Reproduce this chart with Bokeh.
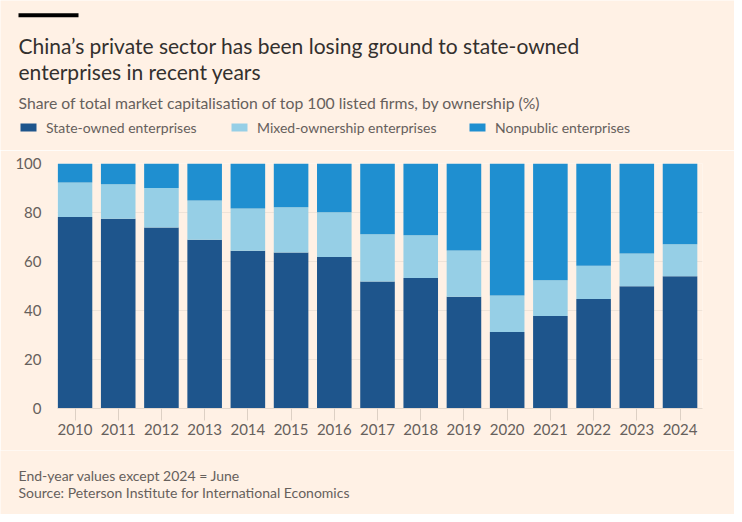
from bokeh.plotting import figure
from bokeh.layouts import column
from bokeh.models import (ColumnDataSource, Range1d, FixedTicker, Label, Legend,
                          LegendItem, BoxAnnotation)
from bokeh.embed import file_html
from bokeh.resources import INLINE

years = ["2010", "2011", "2012", "2013", "2014", "2015", "2016", "2017",
         "2018", "2019", "2020", "2021", "2022", "2023", "2024"]
state_owned = [78.2, 77.4, 73.9, 68.9, 64.4, 63.7, 61.8, 51.8, 53.3, 45.6, 31.2, 37.8, 44.7, 49.9, 54.0]
mixed_ownership = [14.0, 14.1, 16.1, 16.0, 17.2, 18.4, 18.3, 19.3, 17.4, 18.9, 14.9, 14.5, 13.6, 13.4, 13.0]
nonpublic = [7.8, 8.5, 10.0, 15.1, 18.4, 17.9, 19.9, 28.9, 29.3, 35.5, 53.9, 47.7, 41.7, 36.7, 33.0]
series_names = ["State-owned enterprises", "Mixed-ownership enterprises", "Nonpublic enterprises"]
y_ticks = [0, 20, 40, 60, 80, 100]

title_lines = ["China\u2019s private sector has been losing ground to state-owned",
               "enterprises in recent years"]
subtitle = "Share of total market capitalisation of top 100 listed firms, by ownership (%)"
notes = ["End-year values except 2024 = June",
         "Source: Peterson Institute for International Economics"]

BG = "#fff1e5"
COLORS = ["#1e558c", "#96cfe6", "#1f8fd0"]
FONT = "Lato"
GREY = "#66605c"
W = 734
H_HEAD, H_MAIN, H_FOOT = 150, 300, 64

xs = list(range(len(years)))
source = ColumnDataSource(dict(x=xs, soe=state_owned, mixed=mixed_ownership, nonpub=nonpublic))
stack_cols = ["soe", "mixed", "nonpub"]


def blank(h, y0):
    f = figure(width=W, height=h, output_backend="svg", toolbar_location=None,
               x_range=Range1d(0, W), y_range=Range1d(y0 + h, y0),
               x_axis_type=None, y_axis_type=None, min_border=0, frame_align=False,
               background_fill_color=BG, border_fill_color=BG, outline_line_color=None)
    f.grid.visible = False
    return f


def lab(f, text, x, y, size, color):
    f.add_layout(Label(x=x, y=y, text=text, text_font=FONT, text_font_size=size,
                       text_color=color, text_baseline="alphabetic", text_align="left"))


# ---------- header ----------
head = blank(H_HEAD, 0)
head.add_layout(BoxAnnotation(left=18, right=78, top=12.7, bottom=16.7,
                              fill_color="#000000", fill_alpha=1, line_color=None))
lab(head, title_lines[0], 18, 45, "21px", "#33302e")
lab(head, title_lines[1], 18, 71, "21px", "#33302e")
lab(head, subtitle, 18, 101.7, "15.75px", GREY)

key_renderers = head.vbar_stack(stack_cols, x="x", width=0.8, source=source,
                                color=COLORS, line_color=None, visible=False)
legend_x = [18, 229, 467]
for name, r, lx in zip(series_names, key_renderers, legend_x):
    head.add_layout(Legend(items=[LegendItem(label=name, renderers=[r])],
                           location=(lx, 13), orientation="horizontal",
                           padding=0, margin=0, spacing=0,
                           glyph_width=20, glyph_height=10, label_height=20,
                           label_standoff=8, label_text_font=FONT,
                           label_text_font_size="14px", label_text_color=GREY,
                           border_line_color=None, background_fill_alpha=0,
                           inactive_fill_alpha=0))

# ---------- main chart ----------
p = figure(width=W, height=H_MAIN, output_backend="svg", toolbar_location=None,
           x_range=Range1d(-0.405, len(years) - 1 + 0.52), y_range=Range1d(0, 100),
           min_border_left=57, min_border_right=W - 702, min_border_top=13,
           min_border_bottom=42, frame_align=False,
           background_fill_color=BG, border_fill_color=BG, outline_line_color=None)

p.vbar_stack(stack_cols, x="x", width=0.80, source=source, color=COLORS, line_color=None)

p.xaxis.ticker = FixedTicker(ticks=xs)
p.xaxis.major_label_overrides = {i: y for i, y in enumerate(years)}
p.xaxis.axis_line_color = "#e4d8cd"
p.xaxis.major_tick_line_color = "#ddd0c4"
p.xaxis.major_tick_out = 12
p.xaxis.major_tick_in = 0
p.xaxis.minor_tick_line_color = None
p.xaxis.major_label_standoff = 3
p.xaxis.major_label_text_font = FONT
p.xaxis.major_label_text_font_size = "15px"
p.xaxis.major_label_text_color = GREY

p.yaxis.ticker = FixedTicker(ticks=y_ticks)
p.yaxis.axis_line_color = None
p.yaxis.major_tick_line_color = None
p.yaxis.minor_tick_line_color = None
p.yaxis.major_label_standoff = 10
p.yaxis.major_label_text_font = FONT
p.yaxis.major_label_text_font_size = "15px"
p.yaxis.major_label_text_color = GREY

p.xgrid.grid_line_color = None
p.ygrid.grid_line_color = "#efe3d8"
p.ygrid.ticker = FixedTicker(ticks=y_ticks)

# ---------- footer ----------
foot = blank(H_FOOT, H_HEAD + H_MAIN)
lab(foot, notes[0], 18, 475, "14px", GREY)
lab(foot, notes[1], 18, 492.3, "14px", GREY)

layout = column(head, p, foot, spacing=0)
open("out.html", "w").write(file_html(layout, INLINE))
